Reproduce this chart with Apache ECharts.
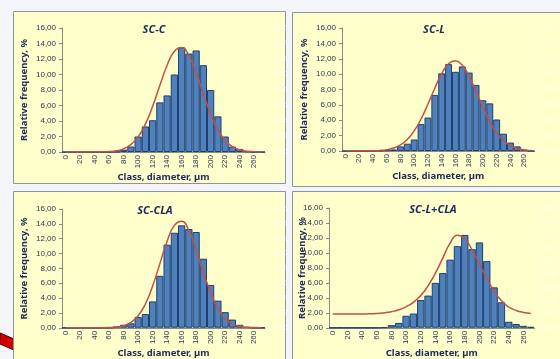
<!DOCTYPE html>
<html><head><meta charset="utf-8">
<script src="https://cdn.jsdelivr.net/npm/echarts@6/dist/echarts.min.js"></script>
<style>html,body{margin:0;padding:0;background:#f4f4fb}#c{width:560px;height:359px}</style>
</head><body><div id="c"></div><script>
// ---- data ----
const categories = ['0','10','20','30','40','50','60','70','80','90','100','110','120','130','140','150','160','170','180','190','200','210','220','230','240','250','260','270'];
const titles = ['SC-C','SC-L','SC-CLA','SC-L+CLA'];
const yTicks = [0,2,4,6,8,10,12,14,16];
const rightTicksA = [0,0.002,0.004,0.006,0.008,0.01,0.012,0.014,0.016];
const rightTicksB = [0,0.002,0.004,0.006,0.008,0.01,0.012,0.014,0.016,0.018];
const barsSCC = [0,0,0,0,0,0,0,0.05,0.3,0.7,2.0,3.3,4.1,6.4,7.3,10.0,13.5,12.7,13.1,11.2,8.0,4.6,2.0,0.7,0.4,0.1,0,0];
const fitSCC  = [0,0,0,0,0.01,0.02,0.06,0.16,0.41,0.95,1.96,3.59,5.89,8.6,11.2,13.0,13.47,12.42,10.2,7.49,4.9,2.85,1.49,0.69,0.28,0.1,0.04,0.01];
const barsSCL = [0,0,0,0,0.05,0.05,0.1,0.2,0.6,0.95,1.5,3.5,4.35,7.3,10.1,11.3,10.3,11.0,10.2,8.6,6.6,6.2,4.1,2.25,1.1,0.6,0.2,0];
const fitSCL  = [0,0,0,0.01,0.03,0.07,0.17,0.38,0.79,1.5,2.61,4.16,6.09,8.17,10.05,11.35,11.75,11.15,9.71,7.75,5.68,3.82,2.35,1.33,0.69,0.33,0.14,0.06];
const barsSCCLA = [0,0,0,0,0,0,0,0.15,0.4,0.6,1.45,1.85,3.55,7.0,11.2,12.8,13.8,13.3,12.9,9.3,5.75,3.65,2.1,1.1,0.4,0.1,0,0];
const fitSCCLA  = [0,0,0,0,0,0.01,0.03,0.09,0.27,0.71,1.61,3.2,5.62,8.64,11.66,13.8,14.36,13.1,10.5,7.4,4.8,2.6,1.25,0.52,0.19,0.06,0.02,0];
const barsSCLCLA = [0,0,0,0,0,0,0,0.05,0.35,0.65,1.6,1.9,3.7,4.3,6.0,7.3,9.1,10.9,12.4,10.5,11.4,8.9,5.4,3.4,0.8,0.5,0.25,0.1];
const fitSCLCLA  = [1.84,1.84,1.84,1.84,1.85,1.86,1.9,2.0,2.15,2.4,2.8,3.4,4.3,5.6,7.3,9.3,11.3,12.35,11.9,10.4,8.5,6.6,4.9,3.6,2.75,2.3,2.05,1.92];

const barSets = [barsSCC, barsSCL, barsSCCLA, barsSCLCLA];
const fitSets = [fitSCC, fitSCL, fitSCCLA, fitSCLCLA];
const rightSets = [rightTicksA, rightTicksA, rightTicksA, rightTicksB];

// ---- layout / style ----
const navy = '#1b2a5c';
const txt = '#2a3657';
const fam = "'Comic Sans MS','Noto Sans',sans-serif";
const grids = [
  {left:62, top:28, width:203, height:124},
  {left:342, top:28, width:203, height:123},
  {left:62, top:209, width:203, height:123},
  {left:329, top:208, width:210, height:122}
];
const panels = [
  {x:13, y:11, w:272, h:172},
  {x:292, y:12, w:290, h:174},
  {x:13, y:191, w:272, h:220},
  {x:292, y:191, w:290, h:220}
];
const titlePos = [[149,19],[429,19],[150,200],[428,199]];
const nameGaps = [33, 33, 33, 22];

const fmt2 = v => v.toFixed(2).replace('.', ',');
const fmt3 = v => v.toFixed(3).replace('.', ',');

const option = {
  backgroundColor: '#f4f4fb',
  animation: false,
  graphic: { elements: [
    {type:'polygon', z:-20, shape:{points:[[0,333],[14,339],[14,350],[0,344]]}, style:{fill:'#d40000', stroke:'#3a0000', lineWidth:1}},
    ...panels.map(p => ({type:'rect', z:-10, shape:{x:p.x+0.5, y:p.y+0.5, width:p.w, height:p.h}, style:{fill:'#ffffcc', stroke:'#8a94a8', lineWidth:1}}))
  ]},
  title: titles.map((t,i) => ({text:t, left:titlePos[i][0], top:titlePos[i][1], textAlign:'center',
    textStyle:{fontFamily:fam, fontSize:11, fontWeight:'bold', fontStyle:'italic', color:navy}})),
  grid: grids,
  xAxis: grids.map((g,i) => ({
    type:'category', gridIndex:i, data:categories,
    axisLine:{lineStyle:{color:'#8a8a8a', width:1}},
    axisTick:{show:false},
    axisLabel:{interval:1, rotate:90, fontSize:8, fontFamily:'Liberation Sans', color:txt, margin:3},
    name:'Class, diameter, µm', nameLocation:'middle', nameGap:18,
    nameTextStyle:{fontFamily:fam, fontSize:9.5, fontWeight:'bold', color:navy}
  })),
  yAxis: grids.flatMap((g,i) => [
    {type:'value', gridIndex:i, min:yTicks[0], max:yTicks[yTicks.length-1], interval:yTicks[1]-yTicks[0],
     axisLine:{show:true, lineStyle:{color:'#8a8a8a'}},
     axisTick:{show:true, length:3, lineStyle:{color:'#8a8a8a'}},
     splitLine:{show:false},
     axisLabel:{formatter:fmt2, fontSize:8, fontFamily:'Liberation Sans', color:txt, margin:6},
     name:'Relative frequency, %', nameLocation:'middle', nameGap:nameGaps[i], nameMoveOverlap:false,
     nameTextStyle:{fontFamily:fam, fontSize:9.5, fontWeight:'bold', color:navy}},
    {type:'value', gridIndex:i, position:'right', min:rightSets[i][0], max:rightSets[i][rightSets[i].length-1],
     interval:rightSets[i][1]-rightSets[i][0],
     axisLine:{show:false}, axisTick:{show:false}, splitLine:{show:false},
     axisLabel:{formatter:fmt3, fontSize:7, fontFamily:'Liberation Sans', color:'rgba(255,255,255,0.65)', margin:5}}
  ]),
  series: grids.flatMap((g,i) => [
    {type:'bar', xAxisIndex:i, yAxisIndex:2*i, data:barSets[i], barCategoryGap:'0%',
     itemStyle:{color:'#4f81bd', borderColor:'#1f3f6e', borderWidth:1}},
    {type:'line', xAxisIndex:i, yAxisIndex:2*i, data:fitSets[i], smooth:true, symbol:'none',
     lineStyle:{color:'#c0504d', width:1.5}}
  ])
};
echarts.init(document.getElementById('c')).setOption(option);
</script></body></html>
